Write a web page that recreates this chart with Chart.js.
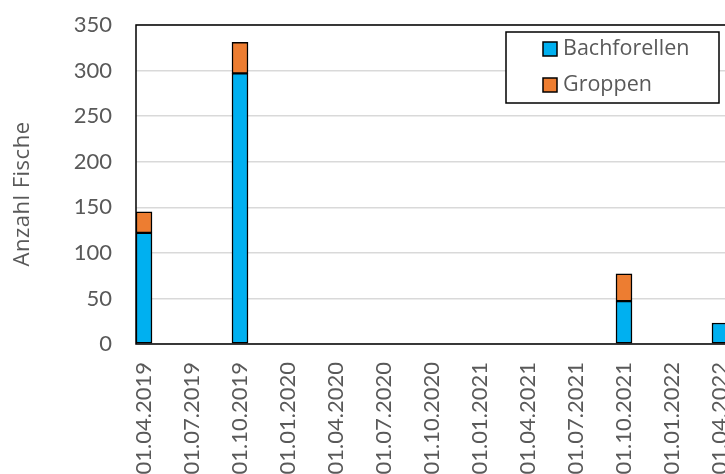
<!DOCTYPE html>
<html>
<head>
<meta charset="utf-8">
<script src="https://cdn.jsdelivr.net/npm/chart.js@4.4.1/dist/chart.umd.min.js"></script>
<style>
  html, body { margin: 0; padding: 0; background: #fff; overflow: hidden; width: 725px; height: 474px; }
  #wrap { position: relative; width: 760px; height: 474px; }
</style>
</head>
<body>
<div id="wrap"><canvas id="c" width="760" height="474"></canvas></div>
<script>
// Quarterly tick labels on the date axis
const tickLabels = [
  '01.04.2019', '01.07.2019', '01.10.2019', '01.01.2020', '01.04.2020',
  '01.07.2020', '01.10.2020', '01.01.2021', '01.04.2021', '01.07.2021',
  '01.10.2021', '01.01.2022', '01.04.2022'
];
// Last month slot of the axis
const axisEnd = '01.06.2022';

// Survey dates and fish counts
const sampleDates  = ['01.04.2019', '01.10.2019', '01.10.2021', '01.04.2022'];
const bachforellen = [122, 297, 47, 23];
const groppen      = [23, 34, 30, 0];

const seriesNames  = ['Bachforellen', 'Groppen'];
const seriesColors = ['#00B0F0', '#ED7D31'];
const yTitle = 'Anzahl Fische';

const TICK_FONT = 'Lato, "Open Sans", sans-serif';
const TEXT_FONT = '"Open Sans", Lato, sans-serif';
const TEXT = '#595959';

// One category per month, from the first tick label to axisEnd
function monthSlots(from, to) {
  const [, m0, y0] = from.split('.').map(Number);
  const [, m1, y1] = to.split('.').map(Number);
  const out = [];
  let m = m0, y = y0;
  while (y < y1 || (y === y1 && m <= m1)) {
    out.push('01.' + String(m).padStart(2, '0') + '.' + y);
    m++; if (m > 12) { m = 1; y++; }
  }
  return out;
}
const months = monthSlots(tickLabels[0], axisEnd);

const series = [bachforellen, groppen];
const datasets = series.map((vals, s) => ({
  label: seriesNames[s],
  data: sampleDates.map((d, i) => ({ x: d, y: vals[i] })),
  backgroundColor: seriesColors[s],
  borderColor: '#000',
  borderWidth: 1.5,
  borderSkipped: false,
  barPercentage: 1,
  categoryPercentage: 1
}));

// Plot frame, axis title and boxed legend
const framePlugin = {
  id: 'frame',
  afterDatasetsDraw(chart) {
    const { ctx, chartArea: a } = chart;
    ctx.save();
    ctx.strokeStyle = '#000';
    ctx.lineWidth = 1.5;
    ctx.strokeRect(a.left, a.top, a.right - a.left, a.bottom - a.top);
    ctx.restore();
  },
  afterDraw(chart) {
    const ctx = chart.ctx;
    ctx.save();
    // vertical axis title
    ctx.save();
    ctx.translate(22.5, 194);
    ctx.rotate(-Math.PI / 2);
    ctx.font = '22px ' + TEXT_FONT;
    ctx.fillStyle = TEXT;
    ctx.textAlign = 'center';
    ctx.textBaseline = 'middle';
    ctx.letterSpacing = '0.5px';
    ctx.fillText(yTitle, 0, 0);
    ctx.restore();

    // legend
    ctx.fillStyle = '#fff';
    ctx.fillRect(506, 32, 213, 71);
    ctx.strokeStyle = '#000';
    ctx.lineWidth = 1.5;
    ctx.strokeRect(506, 32, 213, 71);
    ctx.font = '21.5px ' + TEXT_FONT;
    ctx.textBaseline = 'middle';
    chart.data.datasets.forEach((ds, i) => {
      const cy = 49 + i * 36;
      ctx.fillStyle = ds.backgroundColor;
      ctx.fillRect(543, cy - 7, 14, 14);
      ctx.lineWidth = 1.5;
      ctx.strokeRect(543, cy - 7, 14, 14);
      ctx.fillStyle = TEXT;
      ctx.fillText(ds.label, 563, cy);
    });
    ctx.restore();
  }
};

new Chart(document.getElementById('c'), {
  type: 'bar',
  data: { labels: months, datasets },
  options: {
    responsive: false,
    animation: false,
    devicePixelRatio: 1,
    layout: { padding: { top: 25, left: 0, right: 0, bottom: 0 } },
    plugins: { legend: { display: false }, tooltip: { enabled: false } },
    scales: {
      x: {
        stacked: true,
        grid: { display: false, drawTicks: false },
        border: { display: false },
        ticks: {
          autoSkip: false,
          maxRotation: 90,
          minRotation: 90,
          padding: 18,
          color: TEXT,
          font: { family: TICK_FONT, size: 22 },
          callback(value) {
            const lab = this.getLabelForValue(value);
            return tickLabels.includes(lab) ? lab : '';
          }
        },
        afterFit(scale) {
          scale.height = 130;
          scale.paddingLeft = 0;
          scale.paddingRight = 0;
        }
      },
      y: {
        stacked: true,
        min: 0,
        max: 350,
        ticks: {
          stepSize: 50,
          padding: 24,
          color: TEXT,
          font: { family: TICK_FONT, size: 22 }
        },
        grid: { color: '#D9D9D9', lineWidth: 1.5, drawTicks: false },
        border: { display: false },
        afterFit(scale) {
          scale.width = 136;
          scale.paddingTop = 0;
          scale.paddingBottom = 0;
        }
      }
    }
  },
  plugins: [framePlugin]
});
</script>
</body>
</html>
